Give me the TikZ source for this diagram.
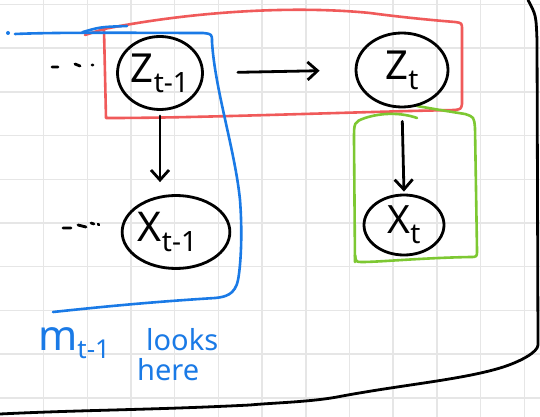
\documentclass[tikz,border=0pt]{standalone}
\usepackage{fontspec}
\setmainfont{Noto Sans}
\usetikzlibrary{arrows.meta,shapes.geometric}
\definecolor{gridc}{HTML}{E6E6E6}
\definecolor{pred}{HTML}{F05A5A}
\definecolor{pblue}{HTML}{1A7AE6}
\definecolor{pgreen}{HTML}{7DC832}
\newcommand\varlabel[3]{{\fontsize{#3}{#3}\selectfont #1}\raisebox{-10pt}{\fontsize{28}{28}\selectfont #2}}
\begin{document}
\begin{tikzpicture}[x=1pt,y=-1pt,line cap=round,line join=round,
  gridline/.style={gridc,line width=1.5pt},
  ink/.style={line width=2.8pt,black},
  var/.style={ellipse,draw,line width=2.8pt,inner sep=0pt},
  arr/.style={ink,-{Straight Barb[length=10pt,width=18pt]}},
  pen/.style={line width=2.6pt},
  bluetext/.style={pblue,inner sep=0pt,anchor=base west}]
\useasboundingbox (0,0) rectangle (540,417);
\fill[white] (0,0) rectangle (540,417);
% grid
\foreach \i in {0,...,11} \draw[gridline] ({43.6+43.7*\i},0) -- ++(0,417);
\foreach \k in {0,...,9} \draw[gridline] (0,{4.5+43.7*\k}) -- ++(540,0);
% frame stroke
\draw[ink] (528,0) .. controls (536,15) .. (537,40) -- (538,345)
  .. controls (538,352) and (520,362) .. (500,368)
  .. controls (460,380) and (400,385) .. (337,397)
  .. controls (310,402) and (270,403) .. (250,405)
  .. controls (150,410) and (80,410) .. (0,414);
% red plate
\draw[pred,pen] (85,35) -- (104,29)
  .. controls (200,10) and (300,6) .. (370,13)
  .. controls (400,17) and (430,20) .. (455,22)
  .. controls (462,23) .. (462,30) -- (462,104)
  .. controls (461,109) .. (455,110)
  .. controls (350,112) and (200,118) .. (110,118)
  -- (106,118) -- (104,30);
% blue plate
\fill[pblue] (8,33) circle (2pt);
\draw[pblue,pen] (15,34) .. controls (60,32) and (150,33) .. (203,33)
  .. controls (212,34) .. (212,42)
  .. controls (215,90) and (235,150) .. (240,200)
  .. controls (243,240) and (240,270) .. (238,280)
  .. controls (235,295) and (225,297) .. (215,298)
  .. controls (150,302) and (100,307) .. (53,312);
\draw[pblue,pen] (83,32) .. controls (100,27) .. (127,26);
% green plate
\draw[pgreen,pen] (355,262) -- (354,140) .. controls (354,122) .. (365,118)
  .. controls (380,113) and (400,112) .. (417,118);
\draw[pgreen,pen] (417,106) .. controls (440,110) .. (465,114)
  .. controls (474,117) .. (475,128) -- (477,250)
  .. controls (477,257) .. (470,257)
  .. controls (420,258) and (380,262) .. (362,262)
  .. controls (356,262) .. (355,255);
% nodes
\node[var,minimum width=85pt,minimum height=73pt] (zp) at (160,73) {\varlabel{Z}{t-1}{40}};
\node[var,minimum width=92pt,minimum height=74pt] (zt) at (402,70) {\varlabel{Z}{t}{40}};
\node[var,minimum width=107pt,minimum height=73pt] (xp) at (176,232) {\varlabel{X}{t-1}{41}\hspace*{17pt}};
\node[var,minimum width=80pt,minimum height=60pt] (xt) at (404,225) {\varlabel{X}{t}{39}};
% dots
\draw[ink] (52,67) -- (58,67) (75,64) -- (80,66) (92,65) -- (93,65);
\draw[ink] (63,228) -- (71,228) (78,225) -- (86,227) (91,223) -- (94,224) (98,224) -- (99,225);
% arrows
\draw[arr,shorten <=34pt,shorten >=35pt] (zp.east) -- (zt.west);
\draw[arr,shorten <=5pt,shorten >=12pt] (zp.south) -- (zp.south |- xp.north);
\draw[arr,shorten <=13pt,shorten >=2pt] (zt.south) -- (xt.north);
% blue text
\node[bluetext] (mlab) at (38,350) {{\fontsize{42}{42}\selectfont m}\raisebox{-8pt}{\fontsize{26}{26}\selectfont t-1}};
\node[bluetext] (looks) at (146,350) {\fontsize{29}{29}\selectfont looks};
\node[bluetext] (here) at (137,380) {\fontsize{29}{29}\selectfont here};
\end{tikzpicture}
\end{document}
